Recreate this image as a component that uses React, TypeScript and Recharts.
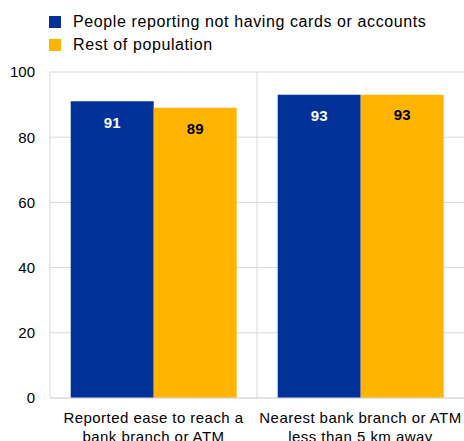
import { BarChart, Bar, XAxis, YAxis, CartesianGrid, LabelList } from 'recharts';

const categories = ['Reported ease to reach a\nbank branch or ATM', 'Nearest bank branch or ATM\nless than 5 km away'];
const noCards = [91, 93];
const restPop = [89, 93];
const seriesNames = ['People reporting not having cards or accounts', 'Rest of population'];
const seriesColors = ['#003299', '#FFB400'];
const yTicks = [0, 20, 40, 60, 80, 100];

const data = categories.map((c, i) => ({ name: c, noCards: noCards[i], restPop: restPop[i] }));

const FONT = '"Liberation Sans", Arial, sans-serif';

function CategoryTick({ x, y, payload }: any) {
  const lines = String(payload.value).split('\n');
  return (
    <text x={x} y={y} textAnchor="middle" fontSize={15} fill="#000" fontFamily={FONT} letterSpacing={0.45}>
      {lines.map((l, i) => (
        <tspan key={i} x={x} dy={i === 0 ? 17 : 19}>{l}</tspan>
      ))}
    </text>
  );
}

export default function App() {
  return (
    <div style={{ position: 'absolute', left: 0, top: 0, width: 464, height: 441, background: '#fff', fontFamily: FONT }}>
      <div style={{ position: 'absolute', left: 49, top: 10 }}>
        {seriesNames.map((n, i) => (
          <div key={n} style={{ display: 'flex', alignItems: 'center', height: 23, fontSize: 16, letterSpacing: 0.6, color: '#000' }}>
            <span style={{ display: 'inline-block', width: 12, height: 12, background: seriesColors[i], marginRight: 12 }} />
            {n}
          </div>
        ))}
      </div>
      <BarChart
        width={464}
        height={441}
        data={data}
        margin={{ top: 72, right: 0, bottom: 0, left: 0 }}
        barCategoryGap="10%"
        barGap={0}
      >
        <CartesianGrid
          stroke="#d9d9d9"
          verticalCoordinatesGenerator={({ offset }: any) => [offset.left, offset.left + offset.width / 2]}
        />
        <XAxis
          dataKey="name"
          height={43}
          axisLine={{ stroke: '#d9d9d9' }}
          tickLine={false}
          interval={0}
          tick={<CategoryTick />}
        />
        <YAxis
          width={50}
          domain={[0, 100]}
          ticks={yTicks}
          axisLine={false}
          tickLine={false}
          tickMargin={9}
          tick={{ fontSize: 15, fill: '#000', fontFamily: FONT }}
        />
        <Bar dataKey="noCards" fill={seriesColors[0]} isAnimationActive={false}>
          <LabelList dataKey="noCards" position="insideTop" offset={16} fill="#fff" fontSize={15} fontWeight="bold" fontFamily={FONT} />
        </Bar>
        <Bar dataKey="restPop" fill={seriesColors[1]} isAnimationActive={false}>
          <LabelList dataKey="restPop" position="insideTop" offset={15} fill="#000" fontSize={15} fontWeight="bold" fontFamily={FONT} />
        </Bar>
      </BarChart>
    </div>
  );
}
